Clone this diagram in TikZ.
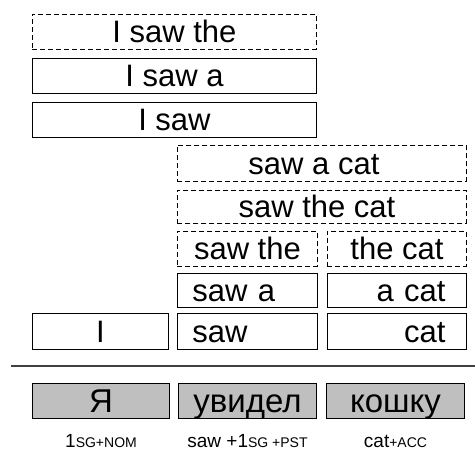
\documentclass[tikz,border=0pt]{standalone}
\usepackage{fontspec}
\setmainfont{Liberation Sans}
\usetikzlibrary{positioning}
\newcommand{\sclab}[1]{{\fontsize{14}{15}\selectfont #1}}

\begin{document}
\begin{tikzpicture}[
  x=1pt, y=-1pt,
  seg/.style={draw, line width=0.9pt, anchor=north west, inner sep=0pt,
    text height=22pt, text depth=0pt, font=\fontsize{31}{32}\selectfont},
  segdash/.style={seg, dash pattern=on 5pt off 3pt},
  lft/.style={text width=#1, align=left, inner xsep=15pt},
  rgt/.style={text width=#1, align=right, inner xsep=21pt},
  gloss/.style={seg, fill=black!25, line width=1pt,
    text height=23.5pt, font=\fontsize{33}{34}\selectfont},
  lab/.style={font=\fontsize{19}{20}\selectfont, text height=13.6pt, text depth=0pt, inner sep=0pt}]

  \useasboundingbox (0,0) rectangle (475,452);

  % English segments
  \node[segdash, minimum width=284pt, minimum height=35pt] (isawthe) at (32,14) {I saw the};
  \node[seg, minimum width=284pt, minimum height=35pt] (isawa) at (32,58) {I saw a};
  \node[seg, minimum width=284pt, minimum height=35pt] (isaw) at (32,102) {I saw};
  \node[segdash, minimum width=289pt, minimum height=36pt] (sawacat) at (177,145) {saw a cat\hspace*{16pt}};
  \node[segdash, minimum width=289pt, minimum height=33pt] (sawthecat) at (177,190) {saw the cat\hspace*{10pt}};
  \node[segdash, minimum width=140pt, minimum height=35pt] (sawthe) at (177,231) {saw the};
  \node[segdash, minimum width=139pt, minimum height=35pt] (thecat) at (327,231) {the cat};
  \node[seg, lft=110pt, minimum height=34pt] (sawa) at (177,273) {saw a};
  \node[seg, rgt=97pt, minimum height=34pt] (acat) at (327,273) {a cat};
  \node[seg, minimum width=136pt, minimum height=36pt] (i) at (32,313) {I};
  \node[seg, lft=110pt, minimum height=36pt] (saw) at (177,313) {saw};
  \node[seg, rgt=97pt, minimum height=36pt] (cat) at (327,313) {cat};

  \draw[line width=2pt, black!75] (11,366) -- (475,366);

  % Russian
  \node[gloss, minimum width=137pt, minimum height=35pt] (ya) at (32,383) {Я};
  \node[gloss, minimum width=138pt, minimum height=35pt] (uvidel) at (178,383) {увидел};
  \node[gloss, minimum width=138pt, minimum height=35pt] (koshku) at (326,383) {кошку};

  \node[lab, below=15pt of ya.south] (labya) {1\sclab{SG+NOM}};
  \node[lab, below=15pt of uvidel.south] (labuvidel) {saw +1\sclab{SG +PST}};
  \node[lab, below=15pt of koshku.south] (labkoshku) {cat\sclab{+ACC}};
\end{tikzpicture}
\end{document}
